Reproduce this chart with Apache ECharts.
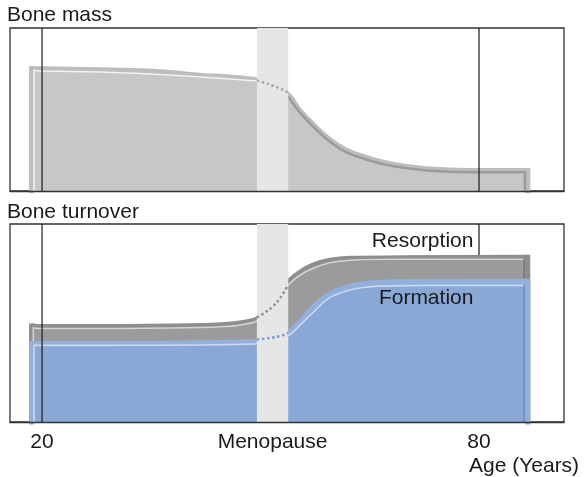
<!DOCTYPE html>
<html>
<head>
<meta charset="utf-8">
<script src="https://cdn.jsdelivr.net/npm/echarts@6/dist/echarts.min.js"></script>
<style>
  html, body { margin: 0; padding: 0; background: #fff; }
  #chart { width: 584px; height: 477px; }
</style>
</head>
<body>
<div id="chart"></div>
<script>
// ---- Horizontal scale: age in years ----
const refAges = [20, 80];
const tickAges = [20, 51.65, 80];
const tickLabels = ['20', 'Menopause', '80'];
const bandAges = [49.5, 53.8];          // menopause window

// ---- Bone mass (relative level) ----
const massAge   = [18.56, 20, 28.0, 33.5, 37.6, 41.7, 45.8, 49.5, 51.6, 53.8, 55.4, 57.5, 59.5, 61.6, 64.1, 66.4, 68.7, 73.3, 78.8, 86.7];
const massLevel = [75.2, 75.0, 74.4, 73.7, 72.7, 71.0, 69.9, 68.1, 65.0, 59.2, 49.4, 39.6, 31.6, 25.5, 21.2, 18.1, 16.0, 13.5, 12.6, 12.6];
const massDotAge   = [49.5, 50.6, 51.6, 52.7, 53.8];
const massDotLevel = [67.8, 66.3, 64.7, 62.9, 60.4];
const massHiAge   = [18.9, 20, 28.0, 33.5, 37.6, 41.7, 45.8, 49.5];
const massHiLevel = [73.9, 73.6, 73.0, 72.1, 71.2, 69.9, 68.7, 67.5];
const massLoAge   = [53.8, 55.4, 57.5, 59.5, 61.6, 64.1, 66.4, 68.7, 73.3, 78.8, 86.3];
const massLoLevel = [58.0, 48.2, 38.3, 30.4, 24.2, 19.9, 16.9, 14.9, 12.4, 11.5, 11.5];

// ---- Bone turnover: resorption ----
const resAge   = [18.56, 20, 28.0, 41.7, 45.1, 47.2, 49.5, 51.6, 53.8, 55.4, 57.2, 59.5, 62.3, 69.2, 86.7];
const resLevel = [48.5, 48.2, 48.2, 48.7, 49.3, 50.0, 52.0, 57.3, 70.6, 75.6, 79.2, 81.7, 82.7, 82.9, 83.2];
const resDotAge   = [49.5, 50.6, 51.6, 52.7, 53.8];
const resDotLevel = [52.8, 55.3, 58.0, 62.6, 69.4];
const resHiAge   = [18.8, 20, 28.0, 41.7, 45.1, 47.2, 49.5, 51.6, 53.8, 55.4, 57.2, 59.5, 62.3, 69.2, 86.2];
const resHiLevel = [47.5, 47.2, 47.2, 47.7, 48.2, 49.0, 51.0, 57.0, 69.1, 74.1, 77.6, 80.4, 81.7, 82.2, 82.2];

// ---- Bone turnover: formation ----
const formAge   = [18.56, 20, 28.0, 41.7, 47.2, 49.5, 51.6, 53.8, 55.4, 57.2, 59.5, 61.9, 64.1, 66.4, 73.3, 86.7];
const formLevel = [39.7, 39.7, 39.7, 40.0, 40.5, 40.7, 42.0, 45.2, 50.5, 58.0, 64.7, 68.1, 69.8, 70.6, 71.0, 71.1];
const formDotAge   = [49.5, 50.6, 51.6, 52.7, 53.8];
const formDotLevel = [41.6, 42.1, 42.6, 43.4, 45.0];
const formHiAge   = [18.9, 20, 28.0, 41.7, 47.2, 49.5, 51.6, 53.8, 55.4, 57.2, 59.5, 61.9, 64.1, 66.4, 73.3, 86.2];
const formHiLevel = [38.7, 38.7, 38.7, 38.9, 39.2, 39.5, 40.5, 43.5, 48.8, 55.3, 62.8, 66.3, 67.9, 68.6, 69.0, 69.0];

// ---- Curve labels ----
const curveNames = ['Resorption', 'Formation'];
const curveLabelAge = 79.3;
const curveLabelLevel = [91.3, 62.5];

const AGE_MIN = 15.6, AGE_MAX = 91.67;
const FONT = '"Liberation Sans", Arial, Helvetica, sans-serif';
const TEXT = '#1a1a1a';
const FS = 21;

const pairs = (xs, ys) => xs.map((x, i) => [x, ys[i]]);

function curve(g, xs, ys, color, width, z, extra) {
  return Object.assign({
    type: 'line', xAxisIndex: g, yAxisIndex: g, data: pairs(xs, ys),
    smooth: 0.35, symbol: 'none', silent: true, z: z,
    lineStyle: { color: color, width: width, cap: 'butt', join: 'round' }
  }, extra || {});
}
function edge(g, x, top, color, width, z) {
  return {
    type: 'line', xAxisIndex: g, yAxisIndex: g, data: [[x, 0], [x, top]],
    symbol: 'none', silent: true, z: z,
    lineStyle: { color: color, width: width, cap: 'square' }
  };
}
function dots(g, xs, ys, color, z) {
  return curve(g, xs, ys, color, 2.5, z, {
    smooth: 0.4,
    lineStyle: { color: color, width: 2.5, type: [2.5, 2.6], cap: 'butt' }
  });
}
function band(g, z) {
  return {
    type: 'line', xAxisIndex: g, yAxisIndex: g, data: [], silent: true, z: z,
    markArea: {
      silent: true, z: z,
      itemStyle: { color: '#e6e6e6' },
      data: [[{ xAxis: bandAges[0] }, { xAxis: bandAges[1] }]]
    }
  };
}
function vline(g, age, z) {
  return {
    type: 'line', xAxisIndex: g, yAxisIndex: g, data: [[age, 0], [age, 100]],
    symbol: 'none', silent: true, z: z,
    lineStyle: { color: '#1a1a1a', width: 1.2 }
  };
}

const last = a => a[a.length - 1];
const series = [];

// Bone mass panel
series.push(curve(0, massAge, massLevel, '#bdbdbd', 5, 2, { areaStyle: { color: '#c6c7c6', opacity: 1 } }));
series.push(edge(0, massAge[0], massLevel[0], '#bdbdbd', 5, 2));
series.push(edge(0, last(massAge), last(massLevel), '#bdbdbd', 5, 2));
series.push(curve(0, massHiAge, massHiLevel, '#f2f2f2', 1.6, 3, { smooth: false, lineStyle: { color: '#f2f2f2', width: 1.6, join: 'miter' } }));
series.push(edge(0, massHiAge[0], massHiLevel[0], '#f2f2f2', 1.6, 3));
series.push(curve(0, massLoAge, massLoLevel, '#9b9b9b', 2.6, 3));
series.push(edge(0, last(massLoAge), last(massLoLevel), '#9b9b9b', 2.6, 3));
series.push(band(0, 6));
series.push(dots(0, massDotAge, massDotLevel, '#a9a9a9', 7));
refAges.forEach(a => series.push(vline(0, a, 8)));

// Bone turnover panel: resorption
series.push(vline(1, refAges[1], 1));
series.push(curve(1, resAge, resLevel, '#8e8e8e', 5, 2, { areaStyle: { color: '#9b9b9b', opacity: 1 } }));
series.push(edge(1, resAge[0], resLevel[0], '#8e8e8e', 5, 2));
series.push(edge(1, last(resAge), last(resLevel), '#8e8e8e', 5, 2));
series.push(curve(1, resHiAge, resHiLevel, '#d4d4d4', 1.6, 3));
series.push(edge(1, resHiAge[0], resHiLevel[0], '#d4d4d4', 1.6, 3));
series.push(edge(1, last(resHiAge), last(resHiLevel), '#767676', 1.5, 3));
// formation
series.push(curve(1, formAge, formLevel, '#93b0dd', 5, 4, { areaStyle: { color: '#89a8d6', opacity: 1 } }));
series.push(edge(1, formAge[0], formLevel[0], '#93b0dd', 5, 4));
series.push(edge(1, last(formAge), last(formLevel), '#93b0dd', 5, 4));
series.push(curve(1, formHiAge, formHiLevel, '#ccd9f1', 1.6, 5));
series.push(edge(1, formHiAge[0], formHiLevel[0], '#ccd9f1', 1.6, 5));
series.push(edge(1, last(formHiAge), last(formHiLevel), '#6c8dc6', 1.5, 5));
series.push(band(1, 6));
series.push(dots(1, resDotAge, resDotLevel, '#8f8f8f', 7));
series.push(dots(1, formDotAge, formDotLevel, '#7b9bd4', 7));
series.push(vline(1, refAges[0], 8));
series.push({
  type: 'scatter', xAxisIndex: 1, yAxisIndex: 1, silent: true, z: 9,
  data: curveLabelLevel.map(v => [curveLabelAge, v]),
  symbolSize: 1, itemStyle: { color: 'rgba(0,0,0,0)', opacity: 1 },
  label: {
    show: true, position: 'left', distance: 0,
    formatter: p => curveNames[p.dataIndex],
    fontSize: FS, fontFamily: FONT, color: TEXT, opacity: 1
  }
});

function nearestTick(v) {
  let best = 0;
  tickAges.forEach((t, i) => { if (Math.abs(t - v) < Math.abs(tickAges[best] - v)) best = i; });
  return tickLabels[best];
}

const boxLine = { color: '#333', width: 1.3 };
function xAxis(g, withLabels) {
  const ax = {
    gridIndex: g, type: 'value', min: AGE_MIN, max: AGE_MAX, z: 10,
    axisLine: { show: true, onZero: false, lineStyle: boxLine },
    axisTick: { show: false }, splitLine: { show: false },
    axisLabel: { show: false }
  };
  if (withLabels) {
    ax.axisLabel = {
      show: true, customValues: tickAges, formatter: nearestTick,
      margin: 10, fontSize: FS, fontFamily: FONT, color: TEXT
    };
    ax.name = 'Age (Years)';
    ax.nameLocation = 'end';
    ax.nameGap = -95;
    ax.nameTextStyle = { align: 'left', verticalAlign: 'top', padding: [34, 0, 0, 0], fontSize: FS, fontFamily: FONT, color: TEXT };
  }
  return ax;
}
function yAxis(g) {
  return { gridIndex: g, type: 'value', min: 0, max: 100, show: false };
}

const chart = echarts.init(document.getElementById('chart'), null, { renderer: 'canvas' });
chart.setOption({
  animation: false,
  backgroundColor: '#fff',
  title: [
    { text: 'Bone mass', left: 7, top: 5, padding: 0, textStyle: { fontSize: FS, fontWeight: 'normal', fontFamily: FONT, color: TEXT } },
    { text: 'Bone turnover', left: 7, top: 201.5, padding: 0, textStyle: { fontSize: FS, fontWeight: 'normal', fontFamily: FONT, color: TEXT } }
  ],
  grid: [
    { left: 10, top: 28, width: 554, height: 163, show: true, borderColor: '#333', borderWidth: 1.3, backgroundColor: 'transparent' },
    { left: 10, top: 224, width: 554, height: 199, show: true, borderColor: '#333', borderWidth: 1.3, backgroundColor: 'transparent' }
  ],
  xAxis: [xAxis(0, false), xAxis(1, true)],
  yAxis: [yAxis(0), yAxis(1)],
  series: series
});
</script>
</body>
</html>
